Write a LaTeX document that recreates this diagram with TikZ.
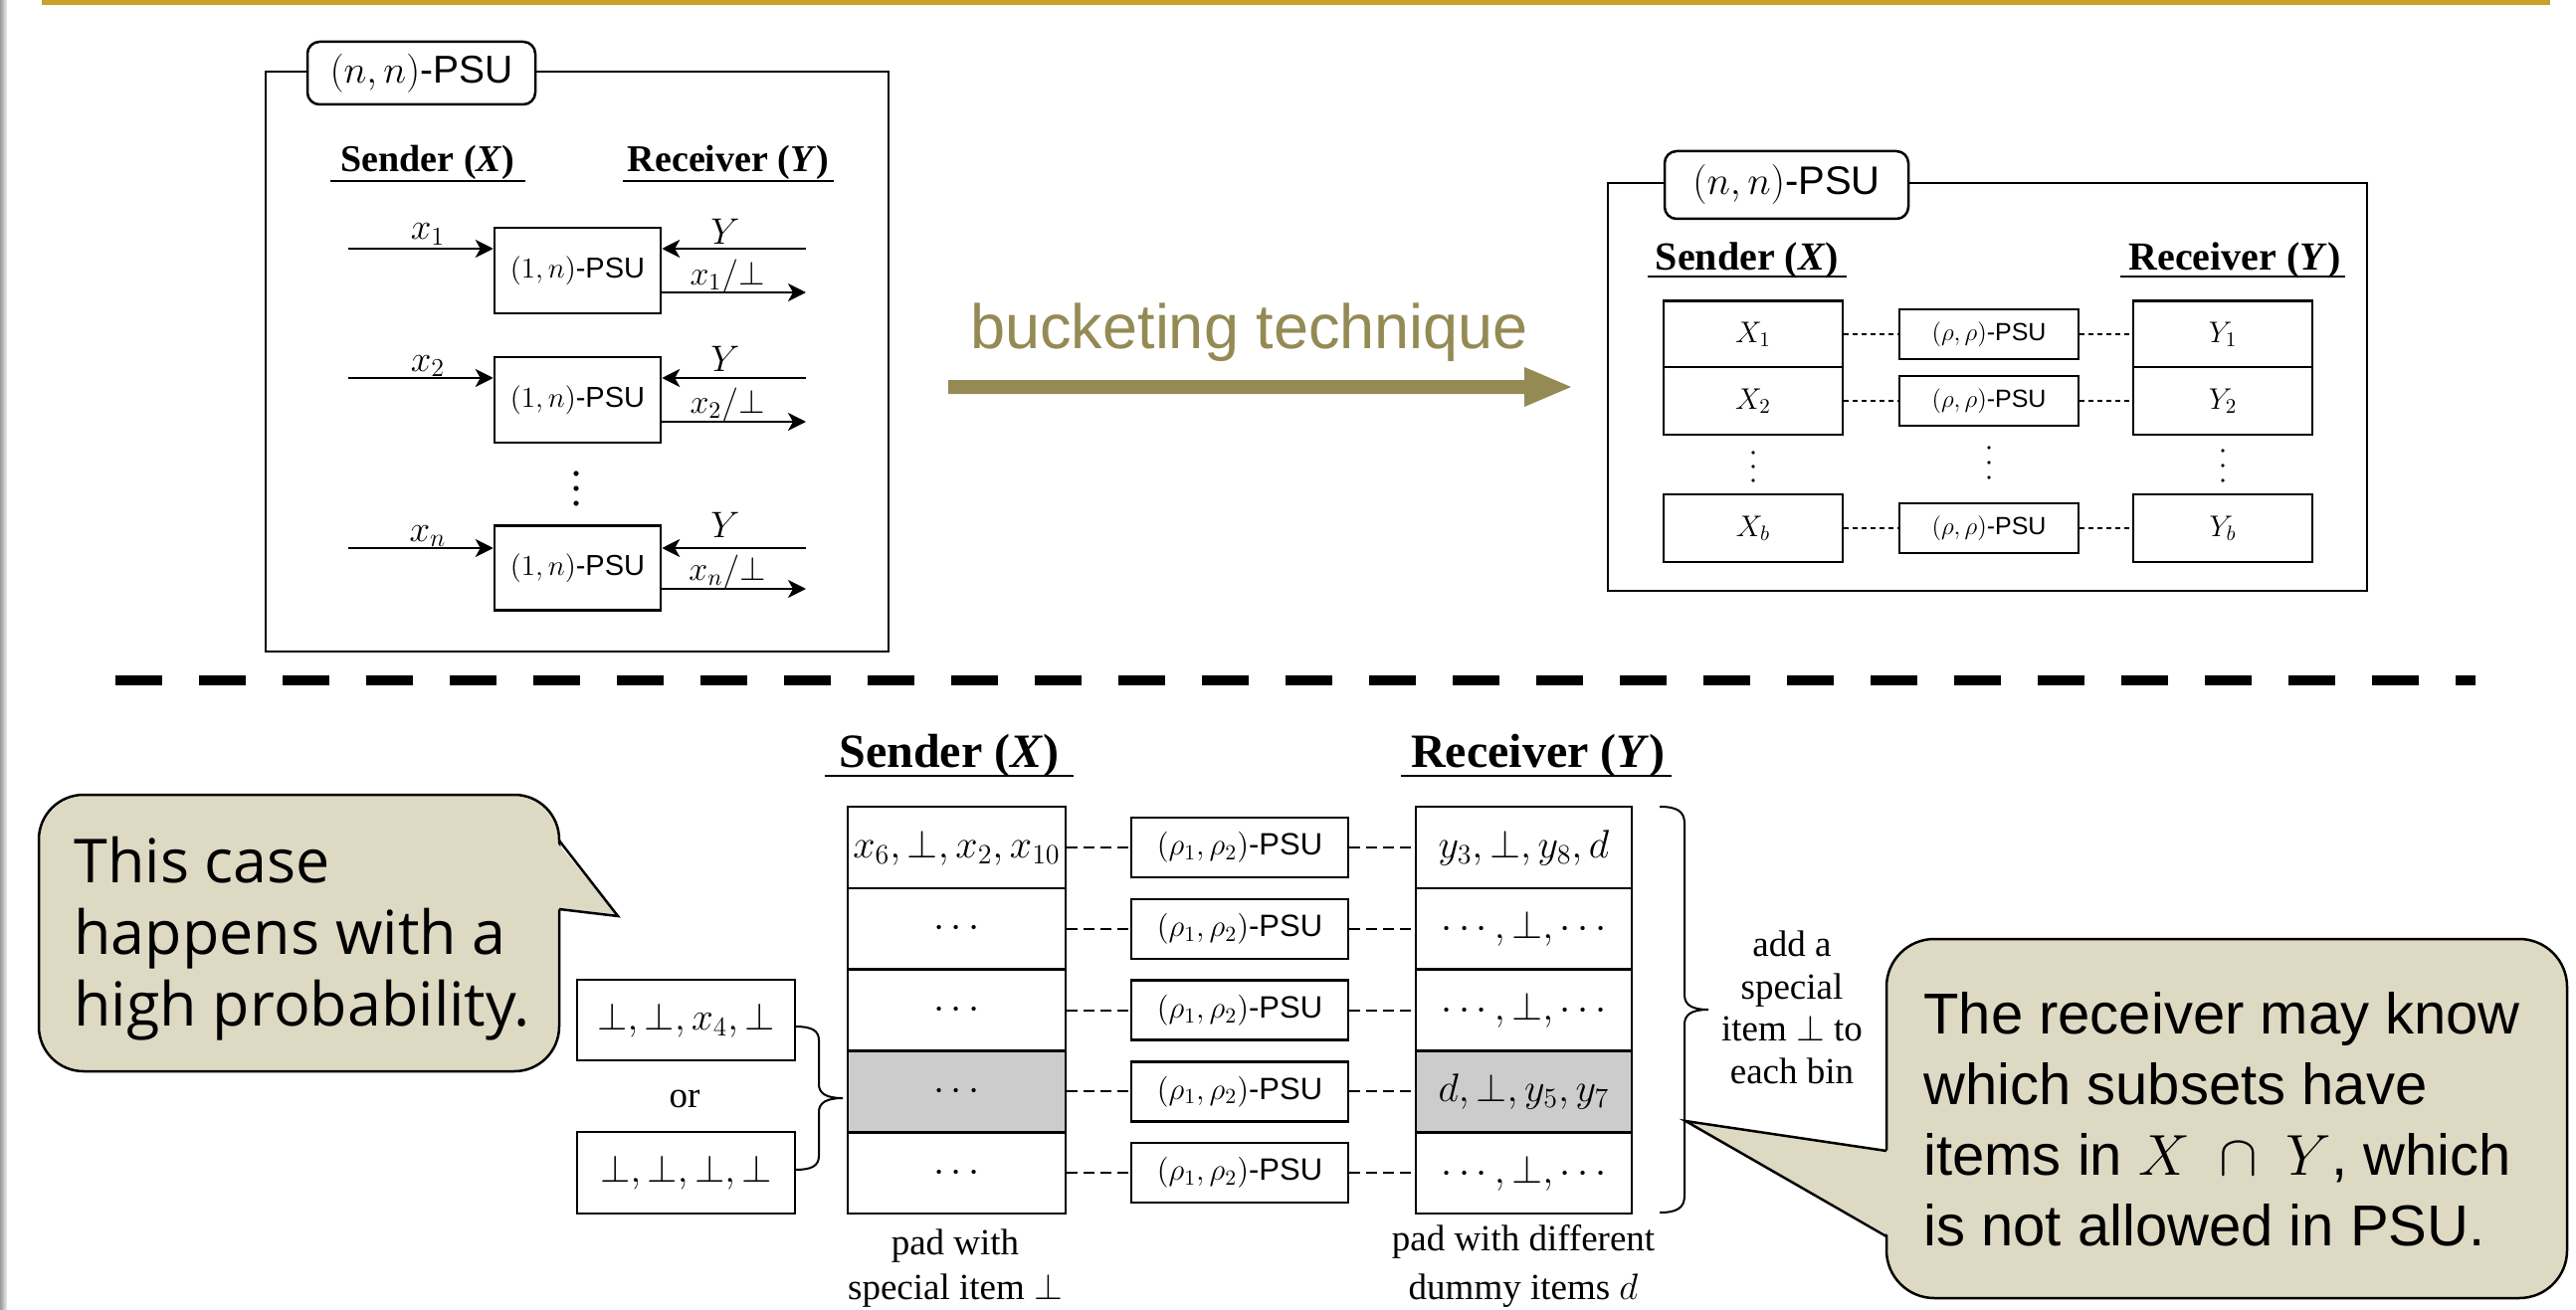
\RequirePackage{fix-cm}
\documentclass[tikz,border=0pt]{standalone}
\usepackage[no-math]{fontspec}
\setmainfont{Liberation Serif}
\newfontfamily\psufont{Liberation Sans}
\newfontfamily\notefont{Open Sans}
\usetikzlibrary{arrows.meta}

\definecolor{slidegold}{RGB}{201,161,43}
\definecolor{bucketolive}{RGB}{148,138,84}
\definecolor{notefill}{RGB}{221,217,195}
\definecolor{binshade}{RGB}{204,204,204}

\newcommand\fsz[2]{\fontsize{#1}{#2}\selectfont}
\newcommand\PSU{{\psufont -PSU}}

\tikzset{
  sz/.style 2 args={minimum width=#1*0.5pt, minimum height=#2*0.5pt},
  box/.style={draw, line width=1.25pt, inner sep=0pt, fill=white},
  tagbox/.style={box, rounded corners=6pt},
  arr/.style={line width=1.25pt, -{Stealth[length=9pt,width=9pt,inset=2.5pt]}},
  dotlink/.style={line width=1.2pt, dash pattern=on 2.5pt off 2pt},
  dashlink/.style={line width=1pt, dash pattern=on 5.5pt off 3pt},
  lbl/.style={inner sep=0pt, anchor=base, font=\fsz{18.5pt}{21pt}},
  head/.style={inner sep=0pt, anchor=base},
  uline/.style={line width=1.25pt},
  notebox/.style={draw, line width=1.25pt, fill=notefill},
  bracepath/.style={line width=1pt},
  smalltext/.style={inner sep=0pt, align=center, font=\fsz{18.5pt}{22.5pt}},
}

\begin{document}
\begin{tikzpicture}[x=0.5pt, y=-0.5pt]
\useasboundingbox (0,0) rectangle (2589,1316);
\fill[white] (0,0) rectangle (2589,1316);

% slide decoration
\fill[slidegold] (42,0) rectangle (2563,5);
\shade[left color=black!40, right color=black!6] (0,0) rectangle (7,1316);

% ---------------- left (n,n)-PSU built from (1,n)-PSU ----------------
\node[box, fill=none, sz={626}{583}] (outerL) at (580,363.5) {};
\node[tagbox, sz={229}{63}, font=\fsz{19.5pt}{22pt}] (tagL) at (423.5,73.5) {$(n,n)$\PSU};

\node[head, font=\fsz{19pt}{22pt}] (sendL) at (430,173) {\textbf{Sender (\textit{X})}};
\node[head, font=\fsz{19pt}{22pt}] (recvL) at (732,173) {\textbf{Receiver (\textit{Y})}};
\draw[uline] ([xshift=-5pt,yshift=-4.5pt]sendL.base west) -- ([xshift=5pt,yshift=-4.5pt]sendL.base east);
\draw[uline] ([xshift=-2pt,yshift=-4.5pt]recvL.base west) -- ([xshift=2pt,yshift=-4.5pt]recvL.base east);

\begin{scope}[every node/.append style={font=\fsz{14.5pt}{17pt}}]
\node[box, sz={167}{86}] (b1) at (580.5,272) {$(1,n)$\PSU};
\node[box, sz={167}{86}] (b2) at (580.5,402) {$(1,n)$\PSU};
\node[box, sz={167}{85}] (b3) at (580.5,571) {$(1,n)$\PSU};
\end{scope}

\coordinate (in1) at (350,250);  \coordinate (yin1) at (810,250); \coordinate (out1) at (810,294);
\coordinate (in2) at (350,380);  \coordinate (yin2) at (810,380); \coordinate (out2) at (810,424);
\coordinate (in3) at (350,551);  \coordinate (yin3) at (810,551); \coordinate (out3) at (810,592);
\foreach \r in {1,2,3}{
  \draw[arr] (in\r) -- (in\r -| b\r.west);
  \draw[arr] (yin\r) -- (yin\r -| b\r.east);
  \draw[arr] (out\r -| b\r.east) -- (out\r);
}
\node[lbl] (lx1) at (430,241) {$x_1$};
\node[lbl] (ly1) at (729,245) {$Y$};
\node[lbl, font=\fsz{17pt}{20pt}] (lo1) at (731,286) {$x_1/\bot$};
\node[lbl] (lx2) at (430,373) {$x_2$};
\node[lbl] (ly2) at (729,373) {$Y$};
\node[lbl, font=\fsz{17pt}{20pt}] (lo2) at (731,415) {$x_2/\bot$};
\node[lbl] (lx3) at (430,544) {$x_n$};
\node[lbl] (ly3) at (729,540) {$Y$};
\node[lbl, font=\fsz{17pt}{20pt}] (lo3) at (731,583) {$x_n/\bot$};
\foreach \yy in {476,491,506} \fill (579,\yy) circle (1.3pt);

% ---------------- bucketing arrow ----------------
\node[inner sep=0pt, anchor=base west, text=bucketolive, font=\psufont\fsz{31.5pt}{36pt}] (bucket) at (975,350) {bucketing technique};
\fill[bucketolive] (953,382) -- (1532,382) -- (1532,369) -- (1579,389) -- (1532,409) -- (1532,396) -- (953,396) -- cycle;

% ---------------- right (n,n)-PSU built from buckets ----------------
\node[box, fill=none, sz={763}{410}] (outerR) at (1997.5,389) {};
\node[tagbox, sz={245}{68}, font=\fsz{20pt}{23pt}] (tagR) at (1795.5,186) {$(n,n)$\PSU};

\node[head, font=\fsz{20pt}{23pt}] (sendR) at (1756,271) {\textbf{Sender (\textit{X})}};
\node[head, font=\fsz{20pt}{23pt}] (recvR) at (2246,271) {\textbf{Receiver (\textit{Y})}};
\draw[uline] ([xshift=-4pt,yshift=-3.5pt]sendR.base west) -- ([xshift=4pt,yshift=-3.5pt]sendR.base east);
\draw[uline] ([xshift=-4pt,yshift=-3.5pt]recvR.base west) -- ([xshift=2pt,yshift=-3.5pt]recvR.base east);

\begin{scope}[every node/.append style={font=\fsz{15pt}{18pt}}]
\node[box, sz={180}{67}] (X1) at (1762,336) {$X_1$};
\node[box, sz={180}{68}] (X2) at (1762,403) {$X_2$};
\node[box, sz={180}{68}] (Xb) at (1762,531) {$X_b$};
\node[box, sz={180}{67}] (Y1) at (2234,336) {$Y_1$};
\node[box, sz={180}{68}] (Y2) at (2234,403) {$Y_2$};
\node[box, sz={180}{68}] (Yb) at (2234,531) {$Y_b$};
\end{scope}
\begin{scope}[every node/.append style={font=\fsz{12.5pt}{15pt}}]
\node[box, sz={180}{50}] (P1) at (1999,336) {$(\rho,\rho)$\PSU};
\node[box, sz={180}{50}] (P2) at (1999,403) {$(\rho,\rho)$\PSU};
\node[box, sz={180}{50}] (Pb) at (1999,531) {$(\rho,\rho)$\PSU};
\end{scope}
\foreach \r in {1,2,b}{
  \draw[dotlink] (X\r) -- (P\r);
  \draw[dotlink] (P\r) -- (Y\r);
}
\foreach \yy in {455,469,483} \fill (1762,\yy) circle (0.9pt);
\foreach \yy in {450,465,480} \fill (1999,\yy) circle (0.9pt);
\foreach \yy in {453,468,483} \fill (2234,\yy) circle (0.9pt);

% ---------------- separator ----------------
\draw[line width=5pt, dash pattern=on 23.5pt off 18.5pt] (116,684) -- (2488,684);

% ---------------- bins with padding ----------------
\node[head, font=\fsz{24pt}{28pt}] (sendB) at (954,771) {\textbf{Sender (\textit{X})}};
\node[head, font=\fsz{24pt}{28pt}] (recvB) at (1546,771) {\textbf{Receiver (\textit{Y})}};
\draw[uline] ([xshift=-7pt,yshift=-4.5pt]sendB.base west) -- ([xshift=7pt,yshift=-4.5pt]sendB.base east);
\draw[uline] ([xshift=-5pt,yshift=-4.5pt]recvB.base west) -- ([xshift=3pt,yshift=-4.5pt]recvB.base east);

\begin{scope}[every node/.append style={font=\fsz{20pt}{24pt}}]
\node[box, sz={219}{81.8}] (S1) at (961.5,852) {$x_6,\bot,x_2,x_{10}$};
\node[box, sz={219}{81.8}] (S2) at (961.5,933.8) {$\cdots$};
\node[box, sz={219}{81.8}] (S3) at (961.5,1015.6) {$\cdots$};
\node[box, sz={219}{81.8}, fill=binshade] (S4) at (961.5,1097.4) {$\cdots$};
\node[box, sz={219}{81.8}] (S5) at (961.5,1179.2) {$\cdots$};
\node[box, sz={217}{81.8}] (R1) at (1531.5,852) {$y_3,\bot,y_8,d$};
\node[box, sz={217}{81.8}] (R2) at (1531.5,933.8) {$\cdots,\bot,\cdots$};
\node[box, sz={217}{81.8}] (R3) at (1531.5,1015.6) {$\cdots,\bot,\cdots$};
\node[box, sz={217}{81.8}, fill=binshade] (R4) at (1531.5,1097.4) {$d,\bot,y_5,y_7$};
\node[box, sz={217}{81.8}] (R5) at (1531.5,1179.2) {$\cdots,\bot,\cdots$};
\end{scope}
\begin{scope}[every node/.append style={font=\fsz{15.5pt}{18pt}}]
\node[box, sz={218}{60}] (Q1) at (1246,852) {$(\rho_1,\rho_2)$\PSU};
\node[box, sz={218}{60}] (Q2) at (1246,933.8) {$(\rho_1,\rho_2)$\PSU};
\node[box, sz={218}{60}] (Q3) at (1246,1015.6) {$(\rho_1,\rho_2)$\PSU};
\node[box, sz={218}{60}] (Q4) at (1246,1097.4) {$(\rho_1,\rho_2)$\PSU};
\node[box, sz={218}{60}] (Q5) at (1246,1179.2) {$(\rho_1,\rho_2)$\PSU};
\end{scope}
\foreach \r in {1,...,5}{
  \draw[dashlink] (S\r) -- (Q\r);
  \draw[dashlink] (Q\r) -- (R\r);
}

% the two possible contents of the shaded bin
\begin{scope}[every node/.append style={font=\fsz{19.5pt}{23pt}}]
\node[box, sz={219}{81}] (L1) at (689.5,1025.5) {$\bot,\bot,x_4,\bot$};
\node[box, sz={219}{82}] (L2) at (689.5,1179) {$\bot,\bot,\bot,\bot$};
\end{scope}
\node[smalltext] (orlbl) at (688,1105) {or};
\draw[bracepath] (799,1032) .. controls (816,1032) and (823,1036) .. (823,1046)
  -- (823,1090) .. controls (823,1099) and (830,1104) .. (847,1104)
  .. controls (830,1104) and (823,1109) .. (823,1118)
  -- (823,1162) .. controls (823,1172) and (816,1176) .. (799,1176);

% brace over the receiver bins
\draw[bracepath] (1668,811) .. controls (1686,811) and (1693,816) .. (1693,828)
  -- (1693,1000) .. controls (1693,1010) and (1700,1015) .. (1717,1015)
  .. controls (1700,1015) and (1693,1020) .. (1693,1030)
  -- (1693,1202) .. controls (1693,1214) and (1686,1219) .. (1668,1219);
\node[smalltext, font=\fsz{18.5pt}{21.25pt}] (addlbl) at (1801,1013) {add a\\special\\item $\bot$ to\\each bin};

\node[smalltext] (padS) at (960,1275) {pad with\\special item $\bot$};
\node[smalltext, font=\fsz{18.5pt}{24.5pt}] (padR) at (1531,1273) {pad with different\\dummy items $d$};

% ---------------- callouts ----------------
\node[notebox, rounded corners=22.5pt, sz={523}{278}] (noteL) at (300.5,938) {};
\coordinate (nLa) at (562,845); \coordinate (nLtip) at (621,921); \coordinate (nLb) at (562,914);
\fill[notefill] ([xshift=-2pt]nLa) -- (nLtip) -- ([xshift=-2pt]nLb) -- cycle;
\draw[line width=1.25pt] (nLa) -- (nLtip) -- (nLb);
\node[inner sep=0pt, anchor=west, align=left, font=\notefont\fsz{30.5pt}{36pt}] (noteLtext) at (74,944)
  {This case\\happens with a\\high probability.};

\node[notebox, rounded corners=24pt, sz={684}{361}] (noteR) at (2238,1124.5) {};
\coordinate (nRa) at (1896,1157); \coordinate (nRtip) at (1694,1127); \coordinate (nRb) at (1896,1243);
\fill[notefill] ([xshift=2pt]nRa) -- (nRtip) -- ([xshift=2pt]nRb) -- cycle;
\draw[line width=1.25pt] (nRa) -- (nRtip) -- (nRb);
\node[inner sep=0pt, anchor=west, align=left, font=\psufont\fsz{29pt}{35.5pt}] (noteRtext) at (1933,1125.5)
  {The receiver may know\\which subsets have\\items in $X\;\cap\;Y$, which\\is not allowed in PSU.};
\end{tikzpicture}
\end{document}
